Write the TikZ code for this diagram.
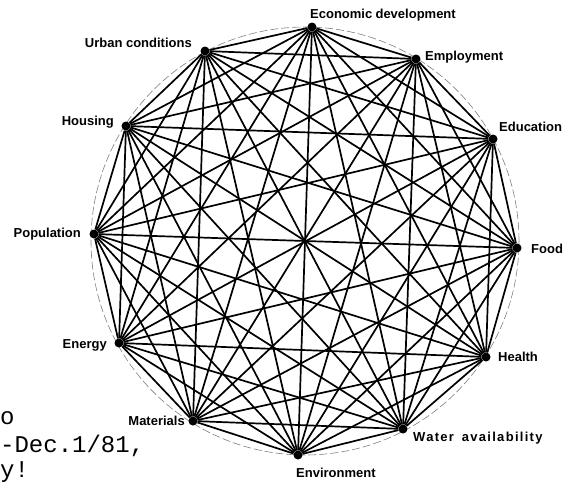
\documentclass[tikz,border=0pt]{standalone}
\usepackage{fontspec}
\setmainfont{Liberation Sans}
\newfontfamily\monofont{Liberation Mono}
\begin{document}
\begin{tikzpicture}[x=1pt,y=-1pt,
  vtx/.style={circle,fill=black,inner sep=0pt,minimum size=9pt},
  edge/.style={line width=1.7pt},
  lab/.style={font=\fontsize{13}{15}\selectfont\bfseries, inner sep=0pt},
  typed/.style={font=\monofont\fontsize{24}{28}\selectfont, inner sep=0pt, anchor=base west}]
\useasboundingbox (0,0) rectangle (563,483);
\clip (0,0) rectangle (563,483);
\draw[gray, line width=0.6pt, dash pattern=on 8pt off 3pt] (305,241) circle (214pt);
\foreach \n/\x/\y in {econ/312/27, empl/416/59, educ/493/139, food/517/248, health/486/357,
  water/403/429, env/298/455, mat/193/421, energy/119/343, pop/94/234, hous/126/126, urban/205/51}
  \node[vtx] (\n) at (\x,\y) {};
\foreach \a [count=\i] in {econ,empl,educ,food,health,water,env,mat,energy,pop,hous,urban}
  \foreach \b [count=\j] in {econ,empl,educ,food,health,water,env,mat,energy,pop,hous,urban}
    {\ifnum\j>\i \draw[edge] (\a) -- (\b); \fi}
\node[lab, anchor=west] (l1) at (310,15) {Economic\hspace{0.25em}development};
\node[lab, anchor=west] (l2) at (425,57) {Employment};
\node[lab, anchor=west] (l3) at (499,127) {Education};
\node[lab, anchor=west] (l4) at (531,249) {Food};
\node[lab, anchor=west] (l5) at (498,357) {Health};
\node[lab, anchor=west] (l6) at (413,438) {\addfontfeature{LetterSpace=10}Water\hspace{0.6em}availability};
\node[lab, anchor=west] (l7) at (296,473) {Environment};
\node[lab, anchor=east] (l8) at (185,421) {Materials};
\node[lab, anchor=east] (l9) at (107,345) {Energy};
\node[lab, anchor=east] (l10) at (81,234) {Population};
\node[lab, anchor=east] (l11) at (114,122) {Housing};
\node[lab, anchor=east] (l12) at (192,43) {Urban conditions};
\node[typed] (t1) at (0,424) {o};
\node[typed] (t2) at (0,452) {-Dec.1/81,};
\node[typed] (t3) at (0,477) {y!};
\end{tikzpicture}
\end{document}
